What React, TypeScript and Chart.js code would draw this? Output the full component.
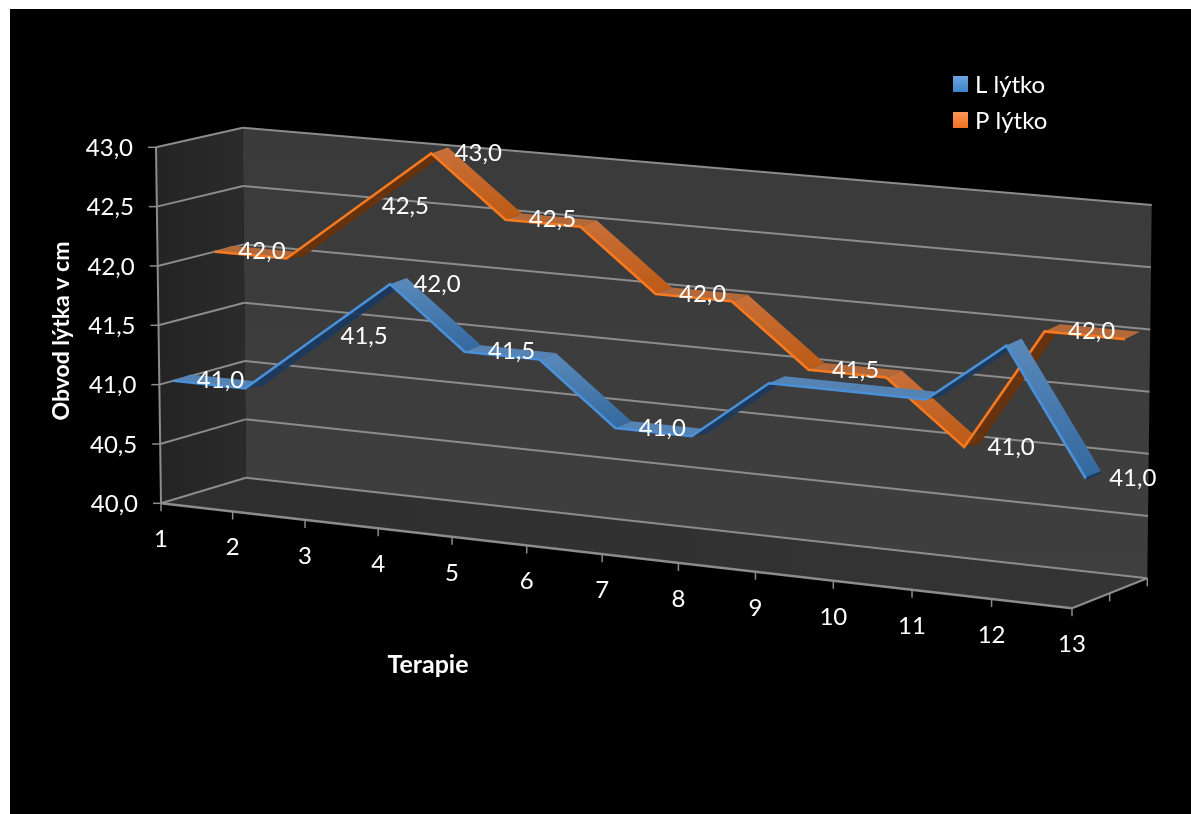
import React, { useEffect, useRef } from "react";
import { Chart, registerables } from "chart.js";

Chart.register(...registerables);

const sessions = ["1", "2", "3", "4", "5", "6", "7", "8", "9", "10", "11", "12", "13"];
const leftCalf = [41, 41, 41.5, 42, 41.5, 41.5, 41, 41, 41.5, 41.5, 41.5, 42, 41];
const rightCalf = [42, 42, 42.5, 43, 42.5, 42.5, 42, 42, 41.5, 41.5, 41, 42, 42];
const leftCalfLabelled = [0, 2, 3, 4, 6, 12];
const rightCalfLabelled = [0, 2, 3, 4, 6, 8, 10, 11];

const FONT = "Lato, Carlito, Calibri, sans-serif";
const ORIGIN = { x: 10, y: 9 };
const WIDTH = 1181;
const HEIGHT = 805;

type Pt = { x: number; y: number };
const at = (x: number, y: number): Pt => ({ x: x - ORIGIN.x, y: y - ORIGIN.y });

// Corners of the perspective box: front/back, bottom/top, left/right.
const box = {
  fbl: at(161, 503.3),
  fbr: at(1072, 608.3),
  ftl: at(156, 147.3),
  ftr: at(1076, 233.5),
  bbl: at(246, 477.7),
  bbr: at(1147.3, 578.3),
  btl: at(242.7, 127.7),
  btr: at(1151.7, 205),
};
const VANISH = 1.065;
const RIBBON_DEPTH = 0.2;
const TOPSIDE_LIFT = 1.5;
const UNDERSIDE_DROP = 2.5;
const GRID = "#8c8c8c";

const lerp = (a: Pt, b: Pt, t: number): Pt => ({ x: a.x + (b.x - a.x) * t, y: a.y + (b.y - a.y) * t });

function project(u: number, v: number, w: number): Pt {
  const t = u / (u + VANISH * (1 - u));
  const front = lerp(lerp(box.fbl, box.fbr, t), lerp(box.ftl, box.ftr, t), v);
  const back = lerp(lerp(box.bbl, box.bbr, t), lerp(box.btl, box.btr, t), v);
  return lerp(front, back, w);
}

function poly(ctx: CanvasRenderingContext2D, pts: Pt[], fill: string | CanvasGradient) {
  ctx.beginPath();
  pts.forEach((p, i) => (i ? ctx.lineTo(p.x, p.y) : ctx.moveTo(p.x, p.y)));
  ctx.closePath();
  ctx.fillStyle = fill;
  ctx.fill();
}

function seg(ctx: CanvasRenderingContext2D, a: Pt, b: Pt, color: string, width: number) {
  ctx.beginPath();
  ctx.moveTo(a.x, a.y);
  ctx.lineTo(b.x, b.y);
  ctx.strokeStyle = color;
  ctx.lineWidth = width;
  ctx.stroke();
}

const formatValue = (v: number) => v.toFixed(1).replace(".", ",");

// Maps a data value through the chart's scales into box coordinates.
function toBox(chart: any, xValue: number, yValue: number) {
  const { x, y } = chart.scales;
  const area = chart.chartArea;
  return {
    u: (x.getPixelForValue(xValue) - area.left) / (area.right - area.left),
    v: (area.bottom - y.getPixelForValue(yValue)) / (area.bottom - area.top),
  };
}

const perspective3d = {
  id: "perspective3d",

  // Moves the line elements from the flat chart area onto the ribbon's front edge.
  afterDatasetsUpdate(chart: any) {
    chart.data.datasets.forEach((ds: any, di: number) => {
      const meta = chart.getDatasetMeta(di);
      meta.data.forEach((pt: any, i: number) => {
        const { u, v } = toBox(chart, i, ds.data[i]);
        const p = project(u, v, ds.ribbon.depth);
        pt.x = p.x;
        pt.y = p.y;
      });
    });
  },

  beforeDatasetsDraw(chart: any) {
    const ctx: CanvasRenderingContext2D = chart.ctx;
    const { x: xs, y: ys } = chart.scales;
    ctx.save();
    ctx.lineCap = "butt";

    const sideFill = ctx.createLinearGradient(box.fbl.x, 0, box.bbl.x, 0);
    sideFill.addColorStop(0, "#242424");
    sideFill.addColorStop(1, "#2b2b2b");
    poly(ctx, [box.fbl, box.ftl, box.btl, box.bbl], sideFill);

    const floorFill = ctx.createLinearGradient(box.fbl.x, 0, box.fbr.x, 0);
    floorFill.addColorStop(0, "#2e2e2e");
    floorFill.addColorStop(1, "#343434");
    poly(ctx, [box.fbl, box.bbl, box.bbr, box.fbr], floorFill);

    const backFill = ctx.createLinearGradient(0, box.btl.y, 0, box.bbr.y);
    backFill.addColorStop(0, "#3a3a3a");
    backFill.addColorStop(1, "#3f3f3f");
    poly(ctx, [box.bbl, box.btl, box.btr, box.bbr], backFill);

    // Gridlines on the back and side walls, with value ticks and labels.
    ctx.font = `24px ${FONT}`;
    ctx.textAlign = "right";
    ctx.textBaseline = "middle";
    ys.ticks.forEach((tick: any) => {
      const { v } = toBox(chart, 0, tick.value);
      const a = project(0, v, 0);
      const b = project(0, v, 1);
      const c = project(1, v, 1);
      seg(ctx, a, b, GRID, 2);
      seg(ctx, b, c, GRID, 2);
      seg(ctx, { x: a.x - 8, y: a.y }, a, GRID, 1.5);
      ctx.fillStyle = "#ffffff";
      ctx.fillText(formatValue(tick.value), a.x - 23, a.y + 1);
    });

    seg(ctx, box.fbl, box.ftl, GRID, 2);
    seg(ctx, box.fbl, box.fbr, GRID, 2.4);
    seg(ctx, box.fbr, box.bbr, GRID, 2.2);

    // Category ticks along the front edge of the floor.
    ctx.textAlign = "center";
    xs.ticks.forEach((tick: any, i: number) => {
      const { u } = toBox(chart, i, ys.min);
      const p = project(u, 0, 0);
      seg(ctx, p, { x: p.x, y: p.y + 8 }, GRID, 1.5);
      ctx.fillStyle = "#ffffff";
      ctx.fillText(sessions[i], p.x, p.y + 36);
    });

    // Depth ticks along the right edge of the floor.
    [0.5, 1].forEach((w) => {
      const p = project(1, 0, w);
      seg(ctx, p, { x: p.x, y: p.y + 8 }, GRID, 1.5);
    });

    ctx.fillStyle = "#ffffff";
    ctx.font = `bold 25px ${FONT}`;
    const xTitle = at(428, 665);
    ctx.fillText("Terapie", xTitle.x, xTitle.y);
    ctx.font = `bold 23px ${FONT}`;
    const yTitle = at(62, 331);
    ctx.save();
    ctx.translate(yTitle.x, yTitle.y);
    ctx.rotate(-Math.PI / 2);
    ctx.fillText("Obvod lýtka v cm", 0, 0);
    ctx.restore();

    // Legend, top right.
    ctx.font = `24px ${FONT}`;
    ctx.textAlign = "left";
    chart.data.datasets.forEach((ds: any, i: number) => {
      const top = at(953, 76 + i * 36);
      const g = ctx.createLinearGradient(0, top.y, 0, top.y + 16);
      g.addColorStop(0, ds.ribbon.swatch[0]);
      g.addColorStop(1, ds.ribbon.swatch[1]);
      ctx.fillStyle = g;
      ctx.fillRect(top.x, top.y, 15, 16);
      ctx.fillStyle = "#ffffff";
      ctx.fillText(ds.label, top.x + 22, top.y + 9);
    });
    ctx.restore();
  },

  // Ribbon faces go down just before the dataset's own line is stroked over them.
  beforeDatasetDraw(chart: any, args: any) {
    const ctx: CanvasRenderingContext2D = chart.ctx;
    const ds = chart.data.datasets[args.index];
    const { depth, flat, under, fall } = ds.ribbon;
    ctx.save();
    for (let i = 0; i < ds.data.length - 1; i++) {
      const a = toBox(chart, i, ds.data[i]);
      const b = toBox(chart, i + 1, ds.data[i + 1]);
      const f0 = project(a.u, a.v, depth);
      const f1 = project(b.u, b.v, depth);
      const b0 = project(a.u, a.v, depth + RIBBON_DEPTH);
      const b1 = project(b.u, b.v, depth + RIBBON_DEPTH);
      const delta = ds.data[i + 1] - ds.data[i];
      if (delta > 0) {
        // Rising stretches show the ribbon's underside, which has a little thickness.
        poly(ctx, [f0, f1, { x: b1.x, y: b1.y + UNDERSIDE_DROP }, { x: b0.x, y: b0.y + UNDERSIDE_DROP }], under);
      } else {
        const t1 = { x: b1.x, y: b1.y - TOPSIDE_LIFT };
        const t0 = { x: b0.x, y: b0.y - TOPSIDE_LIFT };
        if (delta < 0) {
          const g = ctx.createLinearGradient(0, Math.min(t0.y, f0.y), 0, Math.max(t1.y, f1.y));
          g.addColorStop(0, fall[0]);
          g.addColorStop(1, fall[1]);
          poly(ctx, [f0, f1, t1, t0], g);
        } else {
          poly(ctx, [f0, f1, t1, t0], flat);
        }
      }
      if (delta < 0 && i === ds.data.length - 2) seg(ctx, f1, b1, under, 2.5);
    }
    ctx.restore();
  },

  afterDatasetsDraw(chart: any) {
    const ctx: CanvasRenderingContext2D = chart.ctx;
    ctx.save();
    ctx.font = `24px ${FONT}`;
    ctx.fillStyle = "#ffffff";
    ctx.textAlign = "center";
    ctx.textBaseline = "middle";
    chart.data.datasets.forEach((ds: any) => {
      ds.ribbon.labelled.forEach((i: number) => {
        const { u, v } = toBox(chart, i, ds.data[i]);
        const p = project(u, v, ds.ribbon.depth);
        ctx.fillText(formatValue(ds.data[i]), p.x + 47, p.y);
      });
    });
    ctx.restore();
  },
};

export default function App() {
  const ref = useRef<HTMLCanvasElement>(null);

  useEffect(() => {
    if (!ref.current) return;
    const chart = new Chart(ref.current, {
      type: "line",
      data: {
        labels: sessions,
        datasets: [
          {
            label: "L lýtko",
            data: leftCalf,
            borderColor: "#4a90d9",
            ribbon: {
              depth: 0.165,
              flat: "#5583b3",
              under: "rgba(26,58,94,0.92)",
              fall: ["#5a8aba", "#33689f"],
              swatch: ["#6aa5e0", "#3f84cc"],
              labelled: leftCalfLabelled,
            },
          },
          {
            label: "P lýtko",
            data: rightCalf,
            borderColor: "#f7791f",
            ribbon: {
              depth: 0.665,
              flat: "#b4693a",
              under: "rgba(104,50,12,0.92)",
              fall: ["#c8703a", "#bd5a14"],
              swatch: ["#f9975a", "#f07020"],
              labelled: rightCalfLabelled,
            },
          },
        ] as any,
      },
      options: {
        responsive: false,
        animation: false,
        events: [],
        layout: { padding: 0 },
        elements: { point: { radius: 0 }, line: { borderWidth: 2.6, tension: 0 } },
        datasets: { line: { clip: false } },
        plugins: { legend: { display: false }, tooltip: { enabled: false } },
        scales: {
          x: { type: "category", display: false, ticks: { autoSkip: false } },
          y: { type: "linear", display: false, min: 40, max: 43, ticks: { stepSize: 0.5 } },
        },
      } as any,
      plugins: [perspective3d],
    });
    return () => chart.destroy();
  }, []);

  return (
    <canvas
      ref={ref}
      width={WIDTH}
      height={HEIGHT}
      style={{ position: "absolute", left: ORIGIN.x, top: ORIGIN.y, background: "#000", display: "block" }}
    />
  );
}
